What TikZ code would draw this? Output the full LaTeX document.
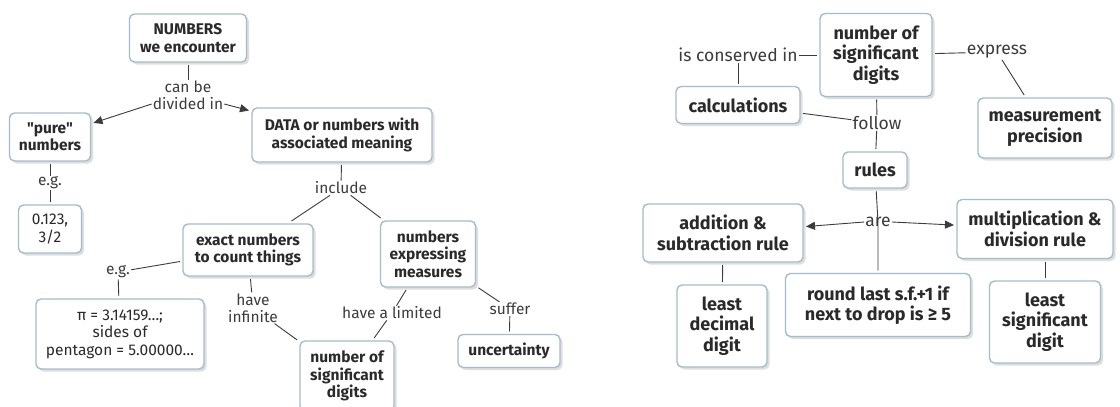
\documentclass[tikz,border=0pt]{standalone}
\usepackage{fontspec}
\setmainfont{Fira Sans}[Ligatures=TeXOff]
\usetikzlibrary{arrows.meta,shadows}
\definecolor{boxline}{HTML}{A3BECB}
\definecolor{ink}{HTML}{2A2A2A}
\definecolor{linkc}{HTML}{3C3C3C}
\begin{document}
\begin{tikzpicture}[x=1pt,y=-1pt,
  concept/.style={draw=boxline, line width=1.4pt, rounded corners=5pt, fill=white,
    text=ink, font=\fontsize{15.5}{17.5}\selectfont\bfseries, align=center,
    inner sep=0pt, outer sep=3pt,
    drop shadow={shadow xshift=2.5pt, shadow yshift=-2.5pt, fill=black!25}},
  plainbox/.style={concept, font=\fontsize{15.5}{17.5}\selectfont},
  bigconcept/.style={concept, font=\fontsize{18}{20.5}\selectfont\bfseries},
  lbl/.style={text=linkc, font=\fontsize{15.5}{17}\selectfont, align=center, inner sep=1pt},
  biglbl/.style={lbl, font=\fontsize{17.5}{20}\selectfont},
  link/.style={draw=linkc, line width=0.9pt},
  arr/.style={link, -{Triangle[length=9pt,width=8pt]}}
]
\useasboundingbox (0,0) rectangle (1120,407);
\fill[white] (0,0) rectangle (1120,407);

% ---------- left map ----------
\node[concept, minimum width=117pt, minimum height=48pt] (numbers) at (188,38) {NUMBERS\\we encounter};
\node[concept, minimum width=81pt, minimum height=48pt] (pure) at (50,137) {"pure"\\numbers};
\node[plainbox, minimum width=63pt, minimum height=48pt] (zero) at (50,229) {0.123,\\3/2};
\node[concept, minimum width=180pt, minimum height=54pt] (data) at (342,135) {DATA or numbers with\\associated meaning};
\node[concept, minimum width=130pt, minimum height=52pt] (exact) at (248,250) {exact numbers\\to count things};
\node[concept, minimum width=95pt, minimum height=66pt] (expr) at (428,254) {numbers\\expressing\\measures};
\node[plainbox, minimum width=168pt, minimum height=70pt] (pi) at (120,334) {π = 3.14159…;\\sides of\\pentagon = 5.00000…};
\node[concept, minimum width=94pt, minimum height=70pt] (nsdone) at (347,376) {number of\\significant\\digits};
\node[concept, minimum width=102pt, minimum height=33pt] (unc) at (509,351) {uncertainty};

\node[lbl] (canbe) at (188,87) {can be};
\node[lbl] (divin) at (188,104) {divided in};
\node[lbl] (egone) at (50,183) {e.g.};
\node[lbl] (include) at (341,188) {include};
\node[lbl] (egtwo) at (118,272) {e.g.};
\node[lbl] (haveinf) at (253,308) {have\\infinite};
\node[lbl] (havelim) at (392,313) {have a limited};
\node[lbl] (suffer) at (510,309) {suffer};

\draw[link] (numbers) -- (canbe);
\draw[arr] (divin.west) -- (pure);
\draw[arr] (divin.east) -- (data);
\draw[link] (pure) -- (egone);
\draw[link] (egone) -- (zero);
\draw[link] (data) -- (include);
\draw[link] (include) -- (exact);
\draw[link] (include) -- (expr);
\draw[link] (exact) -- (egtwo);
\draw[link] (egtwo) -- (pi);
\draw[link] (exact) -- (haveinf);
\draw[link] (haveinf) -- (nsdone);
\draw[link] (expr) -- (havelim);
\draw[link] (havelim) -- (nsdone);
\draw[link] (expr) -- (suffer);
\draw[link] (suffer) -- (unc);

% ---------- right map ----------
\node[bigconcept, minimum width=112pt, minimum height=83pt] (nsdtwo) at (876,55) {number of\\significant\\digits};
\node[bigconcept, minimum width=124pt, minimum height=37pt] (calc) at (738,105) {calculations};
\node[bigconcept, minimum width=134pt, minimum height=60pt] (meas) at (1045,128) {measurement\\precision};
\node[bigconcept, minimum width=64pt, minimum height=36pt] (rules) at (875,170) {rules};
\node[bigconcept, minimum width=160pt, minimum height=58pt] (add) at (723,233) {addition \&\\subtraction rule};
\node[bigconcept, minimum width=156pt, minimum height=59pt] (mult) at (1035,229) {multiplication \&\\division rule};
\node[bigconcept, minimum width=90pt, minimum height=82pt] (lsdone) at (722,326) {least\\decimal\\digit};
\node[bigconcept, minimum width=185pt, minimum height=63pt] (round) at (878,305) {round last s.f.+1 if\\next to drop is ≥ 5};
\node[bigconcept, minimum width=111pt, minimum height=82pt] (lsdtwo) at (1045,322) {least\\significant\\digit};

\node[biglbl] (conserved) at (738,55) {is conserved in};
\node[biglbl] (express) at (997,52) {express};
\node[biglbl] (follow) at (877,123) {follow};
\node[biglbl] (are) at (878,222) {are};

\draw[link] (nsdtwo) -- (conserved);
\draw[link] (conserved) -- (calc);
\draw[link] (nsdtwo) -- (express);
\draw[link] (express) -- (meas);
\draw[link] (nsdtwo) -- (follow);
\draw[link] (calc) -- (follow);
\draw[link] (follow) -- (rules);
\draw[link] (rules) -- (are.center) -- (round);
\draw[arr] (are.west) -- (add);
\draw[arr] (are.east) -- (mult);
\draw[link] (add) -- (lsdone);
\draw[link] (lsdtwo.north |- mult.south) -- (lsdtwo.north);
\end{tikzpicture}
\end{document}
